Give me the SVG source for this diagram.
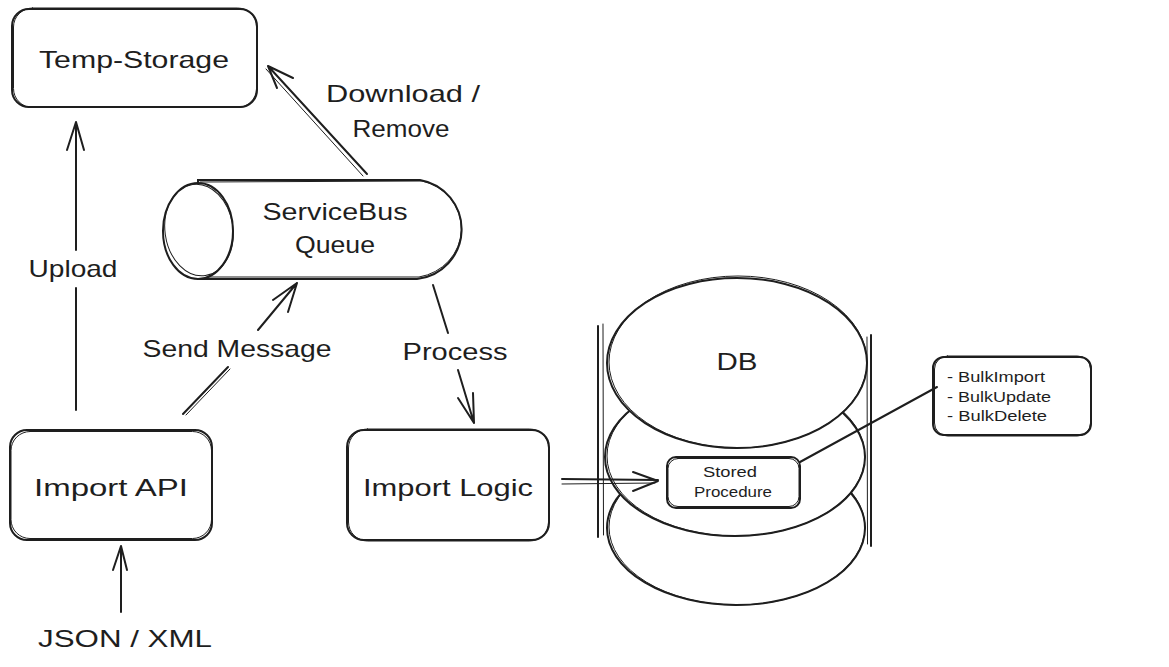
<svg xmlns="http://www.w3.org/2000/svg" width="1169" height="667" viewBox="0 0 1169 667">
<style>
.s{fill:none;stroke:#1e1e1e;stroke-width:2;stroke-linecap:round;stroke-linejoin:round}
.s2{fill:none;stroke:#1e1e1e;stroke-width:1;stroke-linecap:round;stroke-linejoin:round}
.box{fill:#fff;stroke:#1e1e1e;stroke-width:2}
.t{font-family:"Liberation Sans",Arial,sans-serif;fill:#1e1e1e;font-size:24px;text-anchor:middle}
.ts{font-size:14px}
.st{text-anchor:start}
</style>
<rect width="1169" height="667" fill="#fff"/>

<g id="temp-storage">
<rect class="box" x="12" y="9" width="245" height="98" rx="17"/>
<rect class="s2" x="13.5" y="8" width="243" height="99.5" rx="19"/>
<text class="t" x="134" y="68" textLength="190" lengthAdjust="spacingAndGlyphs">Temp-Storage</text>
</g>

<g id="servicebus-queue">
<path class="box" d="M198,180 L420,180 A50,50 0 0 1 417,279 L198,279 Z"/>
<path class="s2" d="M200,182 L422,181 A51,49 0 0 1 419,277 L200,277"/>
<ellipse class="box" cx="198" cy="231" rx="35" ry="48"/>
<ellipse class="s2" cx="199" cy="230" rx="34" ry="46" transform="rotate(-8 199 230)"/>
<text class="t" x="335" y="220" textLength="145" lengthAdjust="spacingAndGlyphs">ServiceBus</text>
<text class="t" x="335" y="253" textLength="80" lengthAdjust="spacingAndGlyphs">Queue</text>
</g>

<g id="import-api">
<rect class="box" x="10" y="430" width="202" height="110" rx="17"/>
<rect class="s2" x="11" y="431.5" width="200.5" height="107" rx="19"/>
<text class="t" x="111" y="496" textLength="154" lengthAdjust="spacingAndGlyphs">Import API</text>
</g>

<g id="import-logic">
<rect class="box" x="347" y="430" width="202" height="110" rx="17"/>
<rect class="s2" x="348.5" y="429" width="200" height="112" rx="19"/>
<text class="t" x="448" y="496" textLength="170" lengthAdjust="spacingAndGlyphs">Import Logic</text>
</g>

<g id="db">
<ellipse class="box" cx="736" cy="528" rx="129" ry="77"/>
<ellipse class="s2" cx="737" cy="527" rx="128" ry="78"/>
<ellipse class="box" cx="735" cy="457" rx="130" ry="79"/>
<ellipse class="s2" cx="736" cy="456" rx="129" ry="80"/>
<ellipse class="box" cx="737" cy="363" rx="130" ry="85"/>
<ellipse class="s2" cx="738" cy="362" rx="129" ry="86"/>
<text class="t" x="737" y="370" font-size="26" textLength="41" lengthAdjust="spacingAndGlyphs">DB</text>
<path class="s" d="M598,326 L598,537"/>
<path class="s2" d="M603,324 L603.5,535"/>
<path class="s" d="M871,335 L871,546"/>
<path class="s2" d="M867,337 L867.5,544"/>
</g>

<g id="stored-procedure">
<rect class="box" x="667" y="457" width="133" height="51" rx="9"/>
<rect class="s2" x="668" y="458.5" width="131" height="48" rx="10"/>
<text class="t ts" x="730" y="477" textLength="54" lengthAdjust="spacingAndGlyphs">Stored</text>
<text class="t ts" x="733" y="497" textLength="78" lengthAdjust="spacingAndGlyphs">Procedure</text>
</g>

<g id="bulk-ops">
<rect class="box" x="933" y="357" width="158" height="78" rx="11"/>
<rect class="s2" x="934.5" y="356" width="156" height="80" rx="13"/>
<text class="t ts st" x="947" y="382" textLength="98" lengthAdjust="spacingAndGlyphs">- BulkImport</text>
<text class="t ts st" x="947" y="402" textLength="104" lengthAdjust="spacingAndGlyphs">- BulkUpdate</text>
<text class="t ts st" x="947" y="421" textLength="100" lengthAdjust="spacingAndGlyphs">- BulkDelete</text>
</g>

<g id="connectors">
<!-- Upload -->
<path class="s" d="M76,410 L76,288 M76,250 L76,122 M67,150 L76,122 L84,150"/>
<text class="t" x="73" y="277" textLength="89" lengthAdjust="spacingAndGlyphs">Upload</text>
<!-- Download / Remove -->
<path class="s" d="M367,174 L268,66 M277,88 L268,66 L293,78"/>
<path class="s2" d="M363,176 L266,69"/>
<text class="t" x="403" y="102" textLength="154" lengthAdjust="spacingAndGlyphs">Download /</text>
<text class="t" x="401" y="137" textLength="97" lengthAdjust="spacingAndGlyphs">Remove</text>
<!-- Send Message -->
<path class="s" d="M183,414 L228,367 M258,330 L297,283 M273,300 L297,283 L288,312"/>
<path class="s2" d="M186,415 L230,369"/>
<text class="t" x="237" y="357" textLength="189" lengthAdjust="spacingAndGlyphs">Send Message</text>
<!-- Process -->
<path class="s" d="M433,285 L448,333 M458,370 L474,423 M458,398 L474,423 L473,393"/>
<text class="t" x="455" y="360" textLength="105" lengthAdjust="spacingAndGlyphs">Process</text>
<!-- JSON / XML -->
<path class="s" d="M121,612 L121,546 M113,570 L121,546 L127,570"/>
<text class="t" x="125" y="647" textLength="174" lengthAdjust="spacingAndGlyphs">JSON / XML</text>
<!-- Import Logic to Stored Procedure -->
<path class="s" d="M562,479 L658,480 M633,472 L658,481 L633,491"/>
<path class="s2" d="M562,484 L655,483"/>
<!-- Stored Procedure to Bulk ops -->
<path class="s" d="M800,462 L937,387"/>
</g>
</svg>
